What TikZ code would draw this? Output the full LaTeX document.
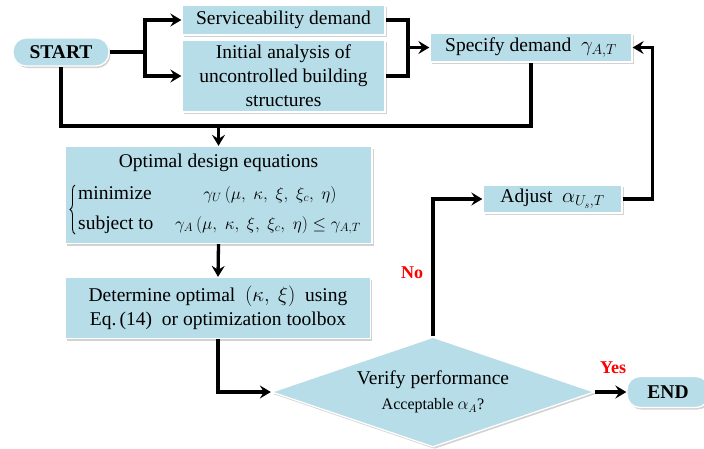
\documentclass[tikz,border=0pt]{standalone}
\usepackage[no-math]{fontspec}
\setmainfont{Liberation Serif}
\usetikzlibrary{shapes.geometric,shadows,arrows.meta,decorations.pathreplacing}
\definecolor{boxblue}{RGB}{183,221,232}
\definecolor{labelred}{RGB}{255,0,0}

\begin{document}
\begin{tikzpicture}[x=1pt,y=-1pt,
  every node/.style={font=\fontsize{19.5}{24}\selectfont},
  box/.style={fill=boxblue, draw=white, line width=1.3pt,
    drop shadow={shadow xshift=1.5pt, shadow yshift=-2pt, opacity=0.35},
    align=center, inner sep=0pt},
  rbox/.style={box, rounded corners=13pt, font=\fontsize{19.5}{24}\selectfont\bfseries},
  plain/.style={inner sep=0pt},
  eqn/.style={plain, anchor=base, font=\fontsize{17.5}{22}\selectfont},
  ln/.style={line width=3.3pt, line join=miter},
  arr/.style={ln, -{Stealth[length=11pt,width=13pt,inset=4pt]}},
  lbl/.style={text=labelred, font=\fontsize{18}{22}\selectfont\bfseries}]

% page
\fill[white] (0,0) rectangle (704,448);
\useasboundingbox (0,0) rectangle (704,448);

% boxes
\node[rbox, minimum width=96pt, minimum height=28pt] (start) at (61,52) {START};
\node[box, minimum width=203pt, minimum height=30pt] (serv) at (283.5,20) {Serviceability demand};
\node[box, minimum width=203pt, minimum height=72pt] (init) at (283.5,76)
  {Initial analysis of\\uncontrolled building\\structures};
\node[box, minimum width=202pt, minimum height=29pt] (spec) at (531,47.5)
  {Specify demand\ \ $\gamma_{A,T}$};

% optimisation problem
\node[box, minimum width=307pt, minimum height=97pt] (opt) at (218.5,195) {};
\node[plain] (optT) at (218.5,163) {Optimal design equations};
\node[plain, anchor=base west] (minL) at (78,199) {minimize};
\node[eqn] (minF) at (270,199) {$\gamma_U\,(\mu,\;\kappa,\;\xi,\;\xi_c,\;\eta)$};
\node[plain, anchor=base west] (subL) at (78,229) {subject to};
\node[eqn] (subF) at (268,229) {$\gamma_A\,(\mu,\;\kappa,\;\xi,\;\xi_c,\;\eta)\le\gamma_{A,T}$};
\draw[decorate, decoration={brace, amplitude=5pt}, line width=0.9pt] (75,234) -- (75,185);

\node[box, minimum width=305pt, minimum height=61pt] (det) at (218,308)
  {Determine optimal\ \ $(\kappa,\ \xi)$\ \ using\\Eq.\,(14)\ \ or optimization toolbox};
\node[box, diamond, aspect=2.94, minimum width=323pt, minimum height=110pt] (ver) at (433,392)
  {Verify performance\\[1pt]{\fontsize{16}{20}\selectfont Acceptable $\alpha_A$?}};
\node[box, minimum width=139pt, minimum height=28pt] (adj) at (552.5,199)
  {Adjust\ \ $\alpha_{U_s,T}$};
\node[rbox, minimum width=82pt, minimum height=31pt] (end) at (668,392) {END};

% branch labels
\node[lbl] (no) at (412,273) {No};
\node[lbl] (yes) at (613,368) {Yes};

% junctions
\coordinate (j1) at (145,52);
\coordinate (j2) at (408,47.5);
\coordinate (j3) at (218.5,126);

% connectors
\draw[ln] (start.east) -- (j1);
\draw[arr] (j1) |- (serv.west);
\draw[arr] (j1) |- (init.west);
\draw[ln] (serv.east) -| (j2) |- (init.east);
\draw[arr] (j2) -- (spec.west);
\draw[ln] (start.south) |- (j3) -| (spec.south);
\draw[arr] (j3) -- (opt.north);
\draw[arr] (opt.south) -- (det.north);
\draw[arr] (det.south) |- (ver.west);
\draw[arr] (ver.north) |- (adj.west);
\draw[arr] (adj.east) -- ++(30,0) |- (spec.east);
\draw[arr] (ver.east) -- (end.west);
\end{tikzpicture}
\end{document}
